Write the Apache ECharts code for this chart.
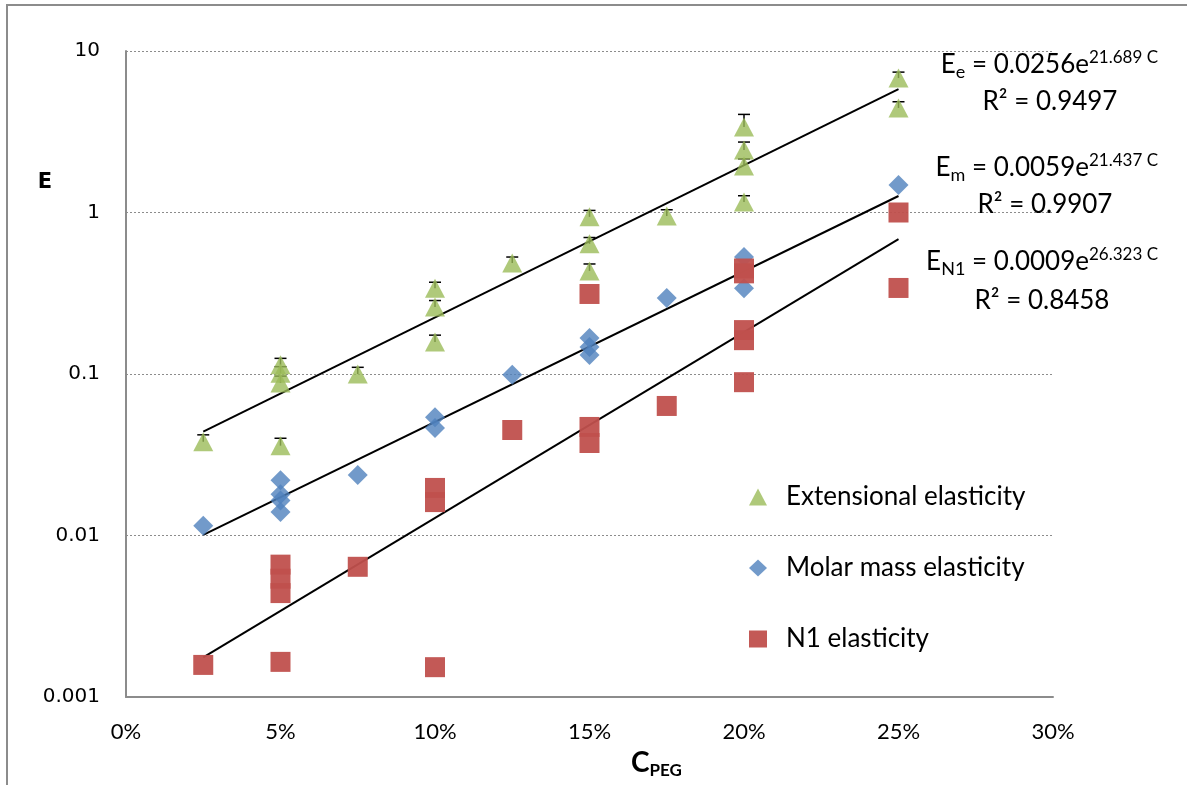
<!DOCTYPE html>
<html>
<head>
<meta charset="utf-8">
<script src="https://cdn.jsdelivr.net/npm/echarts@6/dist/echarts.min.js"></script>
<style>
html,body{margin:0;padding:0;background:#fff;}
#chart{width:1187px;height:785px;}
</style>
</head>
<body>
<div id="chart"></div>
<script>
// ---- data ----
const xTicks = [0, 0.05, 0.10, 0.15, 0.20, 0.25, 0.30];
const yTicks = [0.001, 0.01, 0.1, 1, 10];

const extX = [0.025, 0.05, 0.05, 0.05, 0.05, 0.075, 0.10, 0.10, 0.10, 0.125, 0.15, 0.15, 0.15, 0.175, 0.20, 0.20, 0.20, 0.20, 0.25, 0.25];
const extY = [0.038, 0.114, 0.101, 0.088, 0.036, 0.10, 0.34, 0.26, 0.158, 0.487, 0.94, 0.64, 0.435, 0.95, 3.38, 2.44, 1.94, 1.16, 6.8, 4.44];
const extHi = [0.042, 0.125, 0.111, 0.097, 0.040, 0.11, 0.37, 0.285, 0.174, 0.53, 1.03, 0.70, 0.48, 1.04, 4.05, 2.73, 2.15, 1.27, 7.4, 4.85];

const molX = [0.025, 0.05, 0.05, 0.05, 0.05, 0.075, 0.10, 0.10, 0.125, 0.15, 0.15, 0.15, 0.175, 0.20, 0.20, 0.25];
const molY = [0.0115, 0.022, 0.018, 0.0165, 0.014, 0.0237, 0.054, 0.0463, 0.099, 0.167, 0.147, 0.131, 0.296, 0.53, 0.34, 1.48];

const n1X = [0.025, 0.05, 0.05, 0.05, 0.05, 0.075, 0.10, 0.10, 0.10, 0.125, 0.15, 0.15, 0.15, 0.175, 0.20, 0.20, 0.20, 0.20, 0.20, 0.25, 0.25];
const n1Y = [0.00158, 0.00165, 0.0066, 0.0054, 0.0044, 0.0064, 0.0197, 0.0161, 0.00153, 0.045, 0.313, 0.047, 0.0374, 0.0634, 0.45, 0.42, 0.187, 0.162, 0.089, 1.0, 0.341];

const trendX = [0.025, 0.25];
const trendE = [0.044, 5.8];
const trendM = [0.0101, 1.265];
const trendN1 = [0.00176, 0.685];

const seriesNames = ['Extensional elasticity', 'Molar mass elasticity', 'N1 elasticity'];
const colors = ['#9BBB59', '#4F81BD', '#C0504D'];

// ---- build ----
const zip = (xs, ys) => xs.map((x, i) => [x, ys[i]]);
const errData = extX.map((x, i) => [x, extY[i], extHi[i]]);

const chart = echarts.init(document.getElementById('chart'), null, {renderer: 'canvas'});

const font = 'Lato, "Open Sans", sans-serif';

function trend(xs, ys) {
  return {
    type: 'line', data: zip(xs, ys), symbol: 'none', silent: true,
    lineStyle: {color: '#000', width: 2}, z: 3
  };
}

const eqStyle = {
  a: {fontSize: 26, fontFamily: font, color: '#000', lineHeight: 32},
  sub: {fontSize: 18, fontFamily: font, color: '#000', verticalAlign: 'bottom', lineHeight: 32, padding: [11, 0, 0, 0]},
  sup: {fontSize: 17, fontFamily: font, color: '#000', verticalAlign: 'top', lineHeight: 32, padding: [0, 0, 12, 0]}
};

function eqText(sub, coef, exp, x, y) {
  return {
    type: 'text', right: 1187 - x, top: y, z: 10,
    style: {
      text: '{a|E}{sub|' + sub + '}{a| = ' + coef + 'e}{sup|' + exp + ' C}',
      rich: eqStyle, textAlign: 'right'
    }
  };
}
function r2Text(val, cx, cy) {
  return {
    type: 'text', x: cx, y: cy, z: 10,
    style: {text: 'R² = ' + val, font: '26px ' + font, fill: '#000', textAlign: 'center', textVerticalAlign: 'middle'}
  };
}

const option = {
  backgroundColor: '#fff',
  animation: false,
  grid: {left: 126, right: 134, top: 51, bottom: 88, containLabel: false},
  xAxis: {
    type: 'value', min: 0, max: 0.3, interval: 0.05,
    axisLine: {show: true, onZero: false, lineStyle: {color: '#8c8c8c', width: 2}},
    axisTick: {show: false},
    splitLine: {show: false},
    axisLabel: {
      margin: 24, fontSize: 22, fontFamily: font, color: '#000',
      formatter: v => Math.round(v * 100) + '%'
    }
  },
  yAxis: {
    type: 'log', logBase: 10, min: 0.001, max: 10,
    axisLine: {show: true, lineStyle: {color: '#8c8c8c', width: 2}},
    axisTick: {show: false},
    splitLine: {show: true, lineStyle: {color: '#8c8c8c', type: [2, 2], width: 1}},
    axisLabel: {
      margin: 26, fontSize: 20, fontFamily: '"DejaVu Sans", sans-serif', color: '#000',
      formatter: v => {
        const t = yTicks.find(t => Math.abs(t - v) / t < 1e-6);
        return t === undefined ? '' : String(t);
      }
    }
  },
  legend: {
    data: [
      {name: seriesNames[0], icon: 'triangle'},
      {name: seriesNames[1], icon: 'diamond'},
      {name: seriesNames[2], icon: 'rect'}
    ],
    orient: 'vertical', left: 744, top: 479,
    itemWidth: 18, itemHeight: 17, itemGap: 45,
    textStyle: {fontSize: 26, fontFamily: font, color: '#000', padding: [0, 0, 0, 14]}
  },
  series: [
    trend(trendX, trendE),
    trend(trendX, trendM),
    trend(trendX, trendN1),
    {
      type: 'custom', silent: true, z: 4,
      data: errData,
      renderItem: (params, api) => {
        const p1 = api.coord([api.value(0), api.value(1)]);
        const p2 = api.coord([api.value(0), api.value(2)]);
        return {
          type: 'group',
          children: [
            {type: 'line', shape: {x1: p1[0], y1: p1[1], x2: p2[0], y2: p2[1]}, style: {stroke: '#000', lineWidth: 1.5}},
            {type: 'line', shape: {x1: p2[0] - 6, y1: p2[1], x2: p2[0] + 6, y2: p2[1]}, style: {stroke: '#000', lineWidth: 1.5}}
          ]
        };
      }
    },
    {
      name: seriesNames[0], type: 'scatter', data: zip(extX, extY),
      symbol: 'triangle', symbolSize: [20, 19], z: 5,
      itemStyle: {color: colors[0]}
    },
    {
      name: seriesNames[1], type: 'scatter', data: zip(molX, molY),
      symbol: 'diamond', symbolSize: [20, 20], z: 5,
      itemStyle: {color: colors[1]}
    },
    {
      name: seriesNames[2], type: 'scatter', data: zip(n1X, n1Y),
      symbol: 'rect', symbolSize: [20, 20], z: 5,
      itemStyle: {color: colors[2], opacity: 0.95}
    }
  ],
  graphic: [
    {type: 'rect', shape: {x: 7, y: 5, width: 1300, height: 900}, style: {fill: 'none', stroke: '#8c8c8c', lineWidth: 2}, silent: true, z: 0},
    {type: 'text', x: 45, y: 183, style: {text: 'E', font: 'bold 21px "DejaVu Sans", sans-serif', fill: '#000', textAlign: 'center', textVerticalAlign: 'middle'}},
    {
      type: 'text', left: 631, top: 749,
      style: {
        text: '{c|C}{s|PEG}',
        rich: {
          c: {fontSize: 28, fontWeight: 'bold', fontFamily: font, color: '#000', lineHeight: 32},
          s: {fontSize: 17, fontWeight: 'bold', fontFamily: font, color: '#000', verticalAlign: 'bottom', lineHeight: 32, padding: [13, 0, 0, 0]}
        }
      }
    },
    eqText('e', '0.0256', '21.689', 1158, 49),
    r2Text('0.9497', 1050, 102),
    eqText('m', '0.0059', '21.437', 1158, 152),
    r2Text('0.9907', 1045, 205),
    eqText('N1', '0.0009', '26.323', 1158, 246),
    r2Text('0.8458', 1042, 301)
  ]
};
chart.setOption(option);
</script>
</body>
</html>
